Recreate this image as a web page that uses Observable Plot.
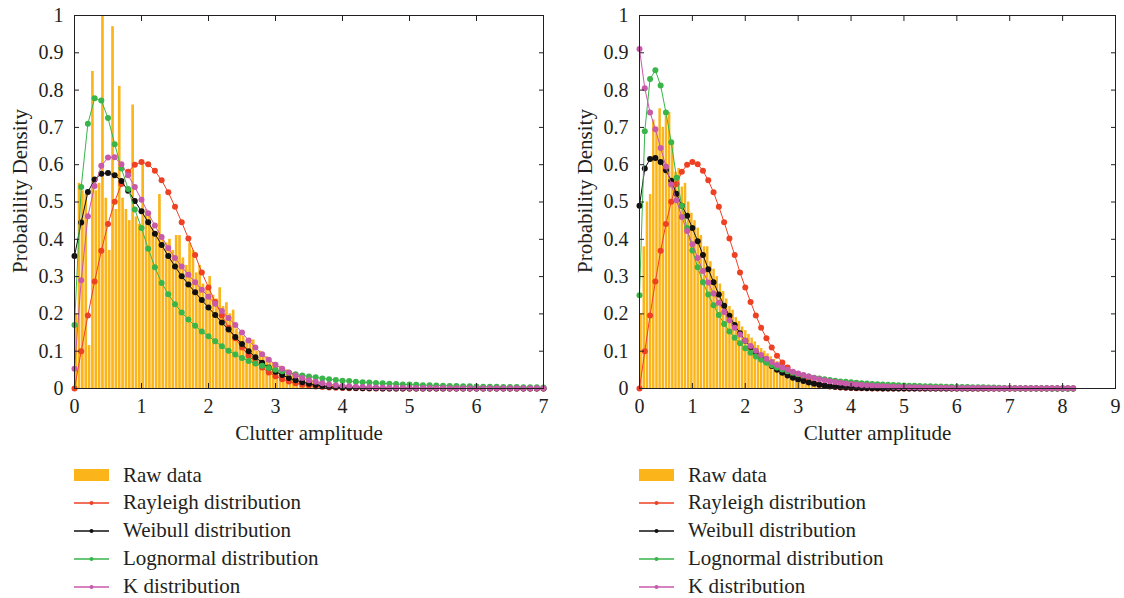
<!DOCTYPE html>
<html><head><meta charset="utf-8">
<script src="https://cdn.jsdelivr.net/npm/d3@7"></script>
<script src="https://cdn.jsdelivr.net/npm/@observablehq/plot@0.6"></script>
<style>
body{margin:0;background:#fff;}
#wrap{position:relative;width:1124px;height:598px;font-family:"Liberation Serif",serif;color:#231F20;overflow:hidden;}
.panel{position:absolute;top:0;}
.row{position:absolute;height:28px;display:flex;align-items:center;white-space:nowrap;font-size:21px;}
.row svg{margin-right:14px;}
</style></head><body><div id="wrap"></div>
<script>
// ---------- data ----------
const seriesNames = ["Raw data","Rayleigh distribution","Weibull distribution","Lognormal distribution","K distribution"];
const seriesColors = ["#FBB419","#EE4124","#111111","#39B54A","#C85AAA"];
const yTicks = [0,0.1,0.2,0.3,0.4,0.5,0.6,0.7,0.8,0.9,1];
const leftXTicks = [0,1,2,3,4,5,6,7];
const rightXTicks = [0,1,2,3,4,5,6,7,8,9];
const xLabel = "Clutter amplitude";
const yLabel = "Probability Density";
const curveStep = 0.1; // curves sampled from x = 0 every 0.1

// left panel histogram (bin width 0.05, from 0)
const leftBinWidth = 0.05;
const leftHist = [0.20,0.55,0.53,0.52,0.115,0.85,0.53,0.55,1.0,0.51,
 0.37,0.97,0.48,0.81,0.51,0.48,0.45,0.76,0.46,0.44,
 0.60,0.48,0.47,0.43,0.42,0.52,0.40,0.39,0.40,0.37,
 0.41,0.41,0.35,0.33,0.39,0.37,0.31,0.33,0.28,0.27,
 0.30,0.25,0.24,0.27,0.22,0.23,0.20,0.21,0.16,0.15,
 0.14,0.13,0.12,0.13,0.10,0.10,0.09,0.085,0.075,0.07,
 0.065,0.06,0.055,0.05,0.045,0.042,0.038,0.035,0.032,0.028,
 0.025,0.022,0.02,0.018,0.016,0.014,0.012,0.011,0.01,0.009,
 0.008,0.007,0.006,0.006,0.005,0.004,0.004,0.003,0.003,0.002];

const leftRayleigh = [0,0.10,0.196,0.287,0.369,0.441,0.501,0.548,0.581,0.600,
 0.607,0.601,0.584,0.558,0.526,0.487,0.446,0.402,0.358,0.311,
 0.271,0.232,0.196,0.163,0.135,0.110,0.088,0.070,0.056,0.043,
 0.033,0.025,0.019,0.014,0.010,0.008,0.0055,0.004,0.0028,0.002,
 0.0013,0.0009,0.0006,0.0004,0.0003,0.0002,0.0001,0,0,0,
 0,0,0,0,0,0,0,0,0,0,
 0,0,0,0,0,0,0,0,0,0,
 0];
const leftWeibull = [0.355,0.445,0.527,0.560,0.576,0.578,0.572,0.556,0.530,0.503,
 0.475,0.446,0.415,0.385,0.355,0.327,0.301,0.279,0.258,0.237,
 0.217,0.197,0.177,0.158,0.138,0.119,0.100,0.084,0.069,0.056,
 0.045,0.036,0.028,0.022,0.017,0.013,0.0095,0.007,0.005,0.0037,
 0.0027,0.002,0.0014,0.001,0.0007,0.0005,0.0003,0.0002,0.0001,0,
 0,0,0,0,0,0,0,0,0,0,
 0,0,0,0,0,0,0,0,0,0,
 0];
const leftLognormal = [0.17,0.54,0.71,0.778,0.772,0.725,0.655,0.59,0.535,0.48,
 0.43,0.375,0.325,0.283,0.253,0.226,0.204,0.185,0.168,0.153,
 0.14,0.127,0.113,0.101,0.091,0.082,0.074,0.067,0.061,0.055,
 0.05,0.046,0.042,0.038,0.035,0.032,0.03,0.027,0.025,0.023,
 0.021,0.02,0.018,0.017,0.016,0.015,0.014,0.013,0.012,0.011,
 0.0105,0.01,0.009,0.0085,0.008,0.0075,0.007,0.0065,0.006,0.0057,
 0.0054,0.005,0.0048,0.0045,0.0043,0.004,0.0038,0.0036,0.0034,0.0032,
 0.003];
const leftK = [0.053,0.29,0.462,0.543,0.597,0.619,0.62,0.601,0.572,0.54,
 0.506,0.47,0.437,0.406,0.377,0.35,0.327,0.305,0.285,0.265,
 0.246,0.227,0.208,0.189,0.17,0.15,0.129,0.11,0.092,0.077,
 0.064,0.053,0.043,0.035,0.028,0.022,0.018,0.014,0.011,0.009,
 0.007,0.006,0.005,0.0042,0.0036,0.003,0.0026,0.0023,0.002,0.0018,
 0.0016,0.0015,0.0014,0.0013,0.0012,0.0011,0.001,0.001,0.0009,0.0009,
 0.0008,0.0008,0.0007,0.0007,0.0007,0.0006,0.0006,0.0006,0.0005,0.0005,
 0.0005];

// right panel histogram (bin width 0.06, from 0)
const rightBinWidth = 0.06;
const rightHist = [0.20,0.38,0.50,0.52,0.72,0.70,0.75,0.70,0.73,0.74,
 0.66,0.58,0.59,0.54,0.55,0.50,0.47,0.45,0.43,0.41,
 0.38,0.38,0.34,0.32,0.30,0.28,0.26,0.24,0.22,0.21,
 0.19,0.18,0.165,0.155,0.145,0.135,0.125,0.115,0.107,0.10,
 0.093,0.085,0.078,0.072,0.066,0.06,0.055,0.05,0.045,0.04,
 0.035,0.031,0.027,0.023,0.02,0.017,0.014,0.012,0.01,0.008,
 0.007,0.006,0.005,0.004,0.004,0.003,0.003,0.002,0.002,0.001];

const rightRayleigh = [0,0.10,0.196,0.287,0.369,0.441,0.501,0.548,0.581,0.600,
 0.607,0.601,0.584,0.558,0.526,0.487,0.446,0.402,0.358,0.311,
 0.271,0.232,0.196,0.163,0.135,0.110,0.088,0.070,0.056,0.043,
 0.033,0.025,0.019,0.014,0.010,0.008,0.0055,0.004,0.0028,0.002,
 0.0013,0.0009,0.0006,0.0004,0.0003,0.0002,0.0001,0,0,0,
 0,0,0,0,0,0,0,0,0,0,
 0,0,0,0,0,0,0,0,0,0,
 0,0,0,0,0,0,0,0,0,0,
 0,0,0];
const rightWeibull = [0.49,0.59,0.615,0.618,0.607,0.585,0.557,0.522,0.49,0.463,
 0.43,0.395,0.358,0.32,0.285,0.252,0.222,0.195,0.17,0.148,
 0.128,0.111,0.096,0.083,0.071,0.06,0.05,0.042,0.035,0.029,
 0.024,0.02,0.016,0.013,0.01,0.008,0.006,0.0047,0.0036,0.0028,
 0.002,0.0015,0.0011,0.0008,0.0006,0.0004,0.0003,0.0002,0.0001,0,
 0,0,0,0,0,0,0,0,0,0,
 0,0,0,0,0,0,0,0,0,0,
 0,0,0,0,0,0,0,0,0,0,
 0,0,0];
const rightLognormal = [0.25,0.69,0.83,0.853,0.812,0.74,0.66,0.565,0.49,0.43,
 0.37,0.325,0.285,0.252,0.223,0.197,0.173,0.153,0.136,0.121,
 0.108,0.096,0.086,0.077,0.069,0.062,0.056,0.051,0.046,0.042,
 0.038,0.035,0.032,0.029,0.027,0.025,0.023,0.021,0.019,0.018,
 0.0165,0.0153,0.0142,0.0132,0.0123,0.0115,0.0107,0.01,0.0093,0.0087,
 0.0081,0.0076,0.0071,0.0066,0.0062,0.0058,0.0055,0.0051,0.0048,0.0045,
 0.0043,0.004,0.0038,0.0036,0.0034,0.0032,0.003,0.0025,0.002,0.0016,
 0.0013,0.001,0.0008,0.0007,0.0006,0.0005,0.0004,0.0004,0.0003,0.0003,
 0.0003,0.0002,0.0002];
const rightK = [0.91,0.805,0.74,0.695,0.645,0.595,0.547,0.505,0.46,0.422,
 0.387,0.35,0.315,0.284,0.255,0.23,0.205,0.183,0.163,0.145,
 0.128,0.114,0.101,0.09,0.08,0.071,0.063,0.056,0.05,0.045,
 0.04,0.036,0.032,0.028,0.025,0.022,0.0195,0.0173,0.0153,0.0136,
 0.012,0.0107,0.0095,0.0085,0.0076,0.0068,0.006,0.0054,0.0048,0.0043,
 0.0039,0.0035,0.0031,0.0028,0.0025,0.0023,0.0021,0.0019,0.0017,0.0015,
 0.0014,0.0013,0.0013,0.0012,0.0011,0.0011,0.001,0.001,0.0009,0.0009,
 0.0008,0.0008,0.0007,0.0007,0.0007,0.0006,0.0006,0.0006,0.0005,0.0005,
 0.0005,0.0004,0.0004];

// ---------- drawing ----------
const ink = "#231F20";
const toPts = vals => vals.map((y, i) => ({x: +(i * curveStep).toFixed(2), y}));
const toBars = (vals, w) => vals.map((y, i) => ({x1: i * w, x2: (i + 1) * w, y}));
const fmtY = d => d === 0 ? "0" : d === 1 ? "1" : d.toFixed(1);

function makePanel({xTicks, hist, binW, curves, width, marginRight}) {
  const marks = [
    Plot.rectY(toBars(hist, binW), {x1: "x1", x2: "x2", y: "y", fill: seriesColors[0], insetLeft: 0.35, insetRight: 0.35})
  ];
  curves.forEach((vals, k) => {
    const pts = toPts(vals);
    marks.push(Plot.line(pts, {x: "x", y: "y", stroke: seriesColors[k + 1], strokeWidth: 1}));
    marks.push(Plot.dot(pts, {x: "x", y: "y", fill: seriesColors[k + 1], r: 3}));
  });
  marks.push(
    Plot.frame({stroke: ink, strokeWidth: 1}),
    Plot.axisX({anchor: "bottom", ticks: xTicks, tickSize: -5, tickPadding: 15, tickFormat: d => String(d), label: null, stroke: ink, fill: ink}),
    Plot.axisX({anchor: "top", ticks: xTicks, tickSize: -5, tickFormat: () => "", label: null, stroke: ink}),
    Plot.axisY({anchor: "left", ticks: yTicks, tickSize: -5, tickPadding: 16, tickFormat: fmtY, label: null, stroke: ink, fill: ink}),
    Plot.axisY({anchor: "right", ticks: yTicks, tickSize: -5, tickFormat: () => "", label: null, stroke: ink}),
    Plot.text([yLabel], {frameAnchor: "left", textAnchor: "middle", rotate: -90, dx: -62, dy: -11, lineAnchor: "top", fontSize: 21, fill: ink}),
    Plot.text([xLabel], {frameAnchor: "bottom", textAnchor: "middle", dy: 37, lineAnchor: "top", fontSize: 21, fill: ink})
  );
  return Plot.plot({
    width, height: 450,
    marginLeft: 74, marginRight, marginTop: 15, marginBottom: 62,
    x: {domain: [0, xTicks[xTicks.length - 1]]},
    y: {domain: [0, 1]},
    style: {fontFamily: "'Liberation Serif', serif", fontSize: "20px", color: ink, background: "transparent", overflow: "visible"},
    marks
  });
}

const wrap = document.getElementById("wrap");

function addPanel(svg, left) {
  const d = document.createElement("div");
  d.className = "panel";
  d.style.left = left + "px";
  d.appendChild(svg);
  wrap.appendChild(d);
}

addPanel(makePanel({xTicks: leftXTicks, hist: leftHist, binW: leftBinWidth,
  curves: [leftRayleigh, leftWeibull, leftLognormal, leftK], width: 560, marginRight: 17}), 0);
addPanel(makePanel({xTicks: rightXTicks, hist: rightHist, binW: rightBinWidth,
  curves: [rightRayleigh, rightWeibull, rightLognormal, rightK], width: 559, marginRight: 9}), 565);

function addLegend(left) {
  seriesNames.forEach((name, i) => {
    const row = document.createElement("div");
    row.className = "row";
    row.style.left = left + "px";
    row.style.top = (475 + i * 27.9 - 14) + "px";
    const ns = "http://www.w3.org/2000/svg";
    const s = document.createElementNS(ns, "svg");
    s.setAttribute("width", 35); s.setAttribute("height", 14);
    if (i === 0) {
      const r = document.createElementNS(ns, "rect");
      r.setAttribute("x", 0); r.setAttribute("y", 1); r.setAttribute("width", 35); r.setAttribute("height", 12);
      r.setAttribute("fill", seriesColors[0]);
      s.appendChild(r);
    } else {
      const l = document.createElementNS(ns, "line");
      l.setAttribute("x1", 0); l.setAttribute("x2", 35); l.setAttribute("y1", 7); l.setAttribute("y2", 7);
      l.setAttribute("stroke", seriesColors[i]); l.setAttribute("stroke-width", 1.6);
      const c = document.createElementNS(ns, "circle");
      c.setAttribute("cx", 17.5); c.setAttribute("cy", 7); c.setAttribute("r", 2);
      c.setAttribute("fill", seriesColors[i]);
      s.appendChild(l); s.appendChild(c);
    }
    row.appendChild(s);
    const t = document.createElement("span");
    t.textContent = name;
    row.appendChild(t);
    wrap.appendChild(row);
  });
}
addLegend(74);
addLegend(639);
</script></body></html>
